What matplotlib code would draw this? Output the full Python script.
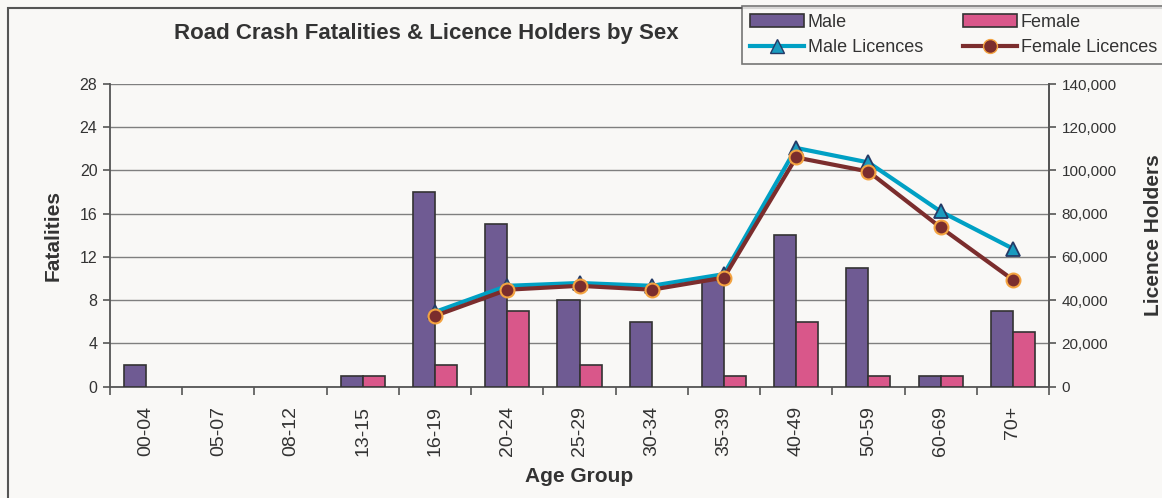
import matplotlib
matplotlib.use("Agg")
import matplotlib.pyplot as plt
import numpy as np
from matplotlib.patches import Patch, Rectangle
from matplotlib.lines import Line2D
from matplotlib.ticker import FuncFormatter, MultipleLocator

plt.rcParams['font.family'] = ['Liberation Sans', 'DejaVu Sans']

categories = ["00-04", "05-07", "08-12", "13-15", "16-19", "20-24", "25-29",
              "30-34", "35-39", "40-49", "50-59", "60-69", "70+"]
male_fatal = [2, 0, 0, 1, 18, 15, 8, 6, 10, 14, 11, 1, 7]
female_fatal = [0, 0, 0, 1, 2, 7, 2, 0, 1, 6, 1, 1, 5]
male_lic = [np.nan, np.nan, np.nan, np.nan, 34500, 46600, 47900, 46600, 52000,
            110400, 103700, 81000, 63800]
female_lic = [np.nan, np.nan, np.nan, np.nan, 32700, 44800, 46600, 44800, 50400,
              106000, 99500, 73600, 49400]

BG = "#F9F8F6"
W, H = 1162, 498
fig = plt.figure(figsize=(W / 100, H / 100), dpi=100, facecolor=BG)

# chart-area border
fig.patches.append(Rectangle((8 / W, -0.1), 1.2, 1 - 8 / H + 0.1, transform=fig.transFigure,
                             fill=False, edgecolor="#555555", linewidth=1.5, zorder=0))

ax = fig.add_axes([110 / W, 1 - 386.5 / H, (1049 - 110) / W, (386.5 - 84) / H])
ax.set_facecolor(BG)
x = np.arange(len(categories))
bw = 0.305
mf = np.array(male_fatal, dtype=float)
ff = np.array(female_fatal, dtype=float)
mm = mf > 0
fm = ff > 0
ax.bar(x[mm] - bw / 2, mf[mm], bw, color="#6F5B93", edgecolor="#333333", linewidth=1.2, zorder=3)
ax.bar(x[fm] + bw / 2, ff[fm], bw, color="#D9578A", edgecolor="#333333", linewidth=1.2, zorder=3)
ax.set_xlim(-0.5, len(categories) - 0.5)
ax.set_ylim(0, 28)
ax.yaxis.set_major_locator(MultipleLocator(4))
ax.grid(axis='y', color="#7f7f7f", linewidth=1.0, zorder=0)
ax.set_axisbelow(True)
ax.spines["top"].set_visible(False)
for s in ["left", "bottom", "right"]:
    ax.spines[s].set_color("#555555")
    ax.spines[s].set_linewidth(1.3)
ax.set_xticks(x)
ax.set_xticklabels(categories, rotation=90, fontsize=14, color="#333333")
ax.set_xticks(np.arange(-0.5, len(categories)), minor=True)
ax.tick_params(axis='x', which='major', length=0, pad=14)
ax.tick_params(axis='x', which='minor', length=6, color="#555555", width=1.2)
ax.tick_params(axis='y', length=5, color="#555555", width=1.2, labelsize=11.5, labelcolor="#333333", pad=4)
ax.set_ylabel("Fatalities", fontsize=15, fontweight='bold', color="#333333", labelpad=12)
ax.set_xlabel("Age Group", fontsize=15, fontweight='bold', color="#333333", labelpad=8)

ax2 = ax.twinx()
ax2.set_ylim(0, 140000)
ax2.yaxis.set_major_locator(MultipleLocator(20000))
ax2.yaxis.set_major_formatter(FuncFormatter(lambda v, p: f"{int(v):,}"))
for s in ["top", "left", "bottom"]:
    ax2.spines[s].set_visible(False)
ax2.spines["right"].set_color("#555555")
ax2.spines["right"].set_linewidth(1.3)
ax2.tick_params(axis='y', length=5, color="#555555", width=1.2, labelsize=11, labelcolor="#333333", pad=4)
ax2.plot(x, male_lic, color="#00A0C4", linewidth=3, marker="^", markersize=10,
         markerfacecolor="#1A9BBF", markeredgecolor="#253A66", markeredgewidth=1.3, zorder=4)
ax2.plot(x, female_lic, color="#7B2D2D", linewidth=3, marker="o", markersize=10,
         markerfacecolor="#7B2D2D", markeredgecolor="#F4A340", markeredgewidth=1.5, zorder=5)
ax2.set_ylabel("Licence Holders", fontsize=15, fontweight='bold', color="#333333", labelpad=20)

fig.text(426 / W, 1 - 33 / H, "Road Crash Fatalities & Licence Holders by Sex", ha='center', va='center',
         fontsize=16, fontweight='bold', color="#333333")

handles = [Patch(facecolor="#6F5B93", edgecolor="#333333", linewidth=1.2),
           Line2D([], [], color="#00A0C4", linewidth=3, marker="^", markersize=10,
                  markerfacecolor="#1A9BBF", markeredgecolor="#253A66"),
           Patch(facecolor="#D9578A", edgecolor="#333333", linewidth=1.2),
           Line2D([], [], color="#7B2D2D", linewidth=3, marker="o", markersize=10,
                  markerfacecolor="#7B2D2D", markeredgecolor="#F4A340")]
labels = ["Male", "Male Licences", "Female", "Female Licences"]
leg = fig.legend(handles, labels, ncol=2, loc='upper left', bbox_to_anchor=(742 / W, 1 - 6 / H),
                 fontsize=13, frameon=True, fancybox=False, handlelength=3.0, handletextpad=0.2,
                 columnspacing=2.2, labelspacing=0.45, borderpad=0.45, borderaxespad=0)
leg.get_frame().set_edgecolor("#555555")
leg.get_frame().set_facecolor(BG)
leg.get_frame().set_linewidth(1.2)
for t in leg.get_texts():
    t.set_color("#333333")

fig.savefig("out.png", dpi=100, facecolor=BG)
